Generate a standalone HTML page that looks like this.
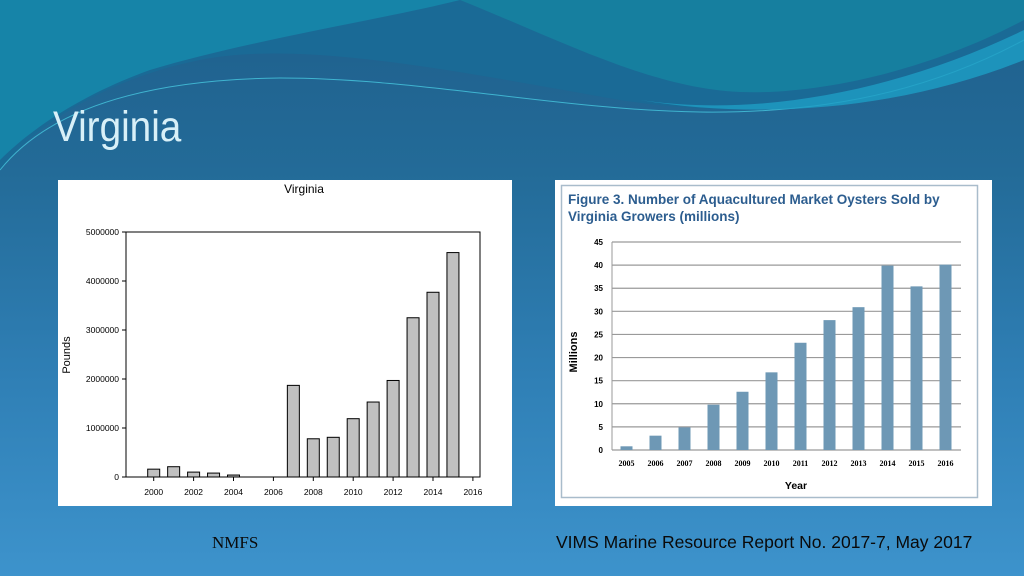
<!DOCTYPE html>
<html><head><meta charset="utf-8"><style>
html,body{margin:0;padding:0}
body{width:1024px;height:576px;overflow:hidden;position:relative;font-family:"Liberation Sans",sans-serif;
background:linear-gradient(180deg,#1f5f8c 0%,#236b98 30%,#2f7fb5 65%,#3d93cc 100%);}
svg{position:absolute;left:0;top:0}
</style></head><body>
<svg width="1024" height="576">
  <g>
    <path d="M0,0 H1024 V60 C900,110 750,120 620,100 C450,70 300,40 200,60 C100,80 30,130 0,170 Z" fill="#1a6a96"/>
    <path d="M0,0 H460 C380,20 250,40 150,70 C80,95 30,130 0,160 Z" fill="#1684a8"/>
    <path d="M460,0 H1024 V20 C930,70 820,95 740,92 C650,88 560,40 460,0 Z" fill="#167f9f"/>
    <path d="M0,170 C40,120 120,80 280,78 C420,78 560,110 700,112 C850,114 950,80 1024,40" fill="none" stroke="#3fb4d0" stroke-width="1"/>
    <path d="M640,100 C760,118 900,90 1024,30 V60 C900,110 760,120 640,100 Z" fill="#1e9ec4" opacity="0.8"/>
  </g>
  <text x="53" y="141" font-size="43" fill="#d8f0f8" transform="translate(53,0) scale(0.9,1) translate(-53,0)">Virginia</text>

  <g>
    <rect x="58" y="180" width="454" height="326" fill="#fff"/>
    <text x="304" y="193" font-size="12" text-anchor="middle" fill="#000">Virginia</text>
    <text transform="translate(70,355) rotate(-90)" font-size="11" text-anchor="middle">Pounds</text>
    <g id="lbars"></g>
    <rect x="126" y="232" width="354" height="245" fill="none" stroke="#000" stroke-width="1"/>
    <g id="laxes"></g>
  </g>

  <g>
    <rect x="555" y="180" width="437" height="326" fill="#fff"/>
    <rect x="561.5" y="185.5" width="416" height="312" fill="none" stroke="#a9bccb" stroke-width="1.5"/>
    <text x="568" y="204" font-size="13.5" font-weight="bold" fill="#2c5d8f">Figure 3. Number of Aquacultured Market Oysters Sold by</text>
    <text x="568" y="221" font-size="13.5" font-weight="bold" fill="#2c5d8f">Virginia Growers (millions)</text>
    <text transform="translate(577,352) rotate(-90)" font-size="11" font-weight="bold" text-anchor="middle">Millions</text>
    <text x="796" y="489" font-size="10.5" font-weight="bold" text-anchor="middle">Year</text>
    <g id="rgrid"></g>
    <g id="rbars"></g>
  </g>

  <text x="212" y="548" font-size="17" fill="#0a0a0a" font-family="Liberation Serif, serif">NMFS</text>
  <text x="556" y="548" font-size="17.5" fill="#0a0a0a">VIMS Marine Resource Report No. 2017-7, May 2017</text>
</svg>
<script>
const leftYears=[2000,2001,2002,2003,2004,2005,2006,2007,2008,2009,2010,2011,2012,2013,2014,2015];
const leftValues=[160000,210000,100000,80000,40000,0,0,1870000,780000,810000,1190000,1530000,1970000,3250000,3770000,4580000];
const leftYTicks=[0,1000000,2000000,3000000,4000000,5000000];
const leftXTicks=[2000,2002,2004,2006,2008,2010,2012,2014,2016];
const rightYears=["2005","2006","2007","2008","2009","2010","2011","2012","2013","2014","2015","2016"];
const rightValues=[0.8,3.1,4.9,9.8,12.6,16.8,23.2,28.1,30.9,39.9,35.4,40.1];
const rightYTicks=[0,5,10,15,20,25,30,35,40,45];
const NS="http://www.w3.org/2000/svg";
function mk(t,a,p,txt){const e=document.createElementNS(NS,t);for(const k in a)e.setAttribute(k,a[k]);if(txt!==undefined)e.textContent=txt;p.appendChild(e);return e;}
const lx=y=>153.7+(y-2000)*19.95, ly=v=>477-v/5000000*245;
const lb=document.getElementById('lbars'), la=document.getElementById('laxes');
leftYears.forEach((yr,i)=>{const v=leftValues[i];if(v<=0)return;
 const r=mk('rect',{x:lx(yr)-6,y:ly(v),width:12,height:477-ly(v),fill:'#c0c0c0',stroke:'#000','stroke-width':1},lb);
 
 });
leftYTicks.forEach(v=>{mk('line',{x1:122,x2:126,y1:ly(v),y2:ly(v),stroke:'#000'},la);
 const t=mk('text',{x:119,y:ly(v)+3,'font-size':8.5,'text-anchor':'end'},la,String(v));
 
 });
leftXTicks.forEach(y=>{mk('line',{x1:lx(y),x2:lx(y),y1:477,y2:481,stroke:'#000'},la);
 const t=mk('text',{x:lx(y),y:495,'font-size':8.5,'text-anchor':'middle'},la,String(y));
 
 });
const rx=i=>612+(i+0.5)*29, ry=v=>450-v/45*208;
const rg=document.getElementById('rgrid'), rb=document.getElementById('rbars');
rightYTicks.forEach(v=>{mk('line',{x1:612,x2:961,y1:ry(v),y2:ry(v),stroke:'#9a9a9a','stroke-width':1.2},rg);
 const t=mk('text',{x:603,y:ry(v)+3,'font-size':8,'font-weight':'bold','text-anchor':'end'},rg,String(v));
 
 });
mk('line',{x1:612,x2:612,y1:242,y2:450,stroke:'#9a9a9a'},rg);
rightYears.forEach((yr,i)=>{
 const r=mk('rect',{x:rx(i)-6,y:ry(rightValues[i]),width:12,height:450-ry(rightValues[i]),fill:'#6e98b5'},rb);
 
 
 const t=mk('text',{x:rx(i),y:466,'font-size':8,'font-weight':'bold','text-anchor':'middle','font-family':'Liberation Serif, serif'},rb,yr);
 
 });
</script>
</body></html>
